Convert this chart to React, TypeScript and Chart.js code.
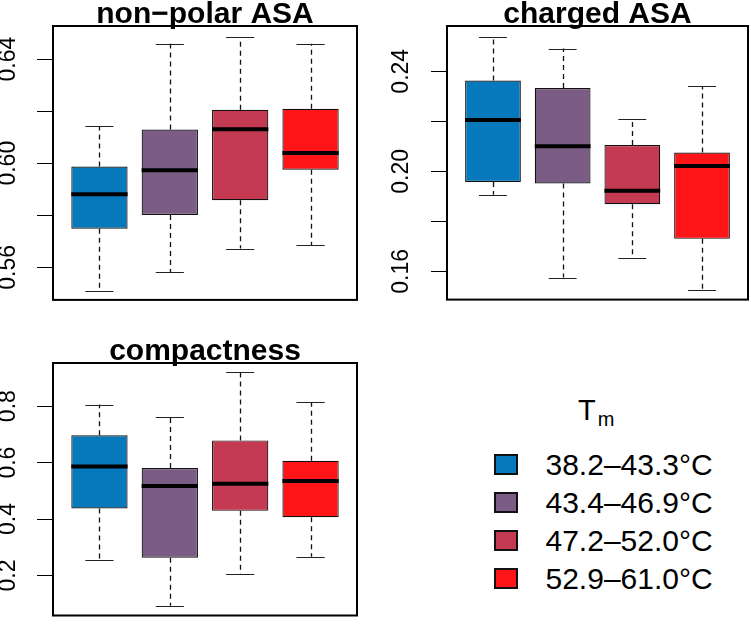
import React, { useEffect, useRef } from 'react';
import { Chart, registerables } from 'chart.js';

Chart.register(...registerables);

const FONT = "'Liberation Sans', Arial, Helvetica, sans-serif";

const GROUPS = ['38.2–43.3°C', '43.4–46.9°C', '47.2–52.0°C', '52.9–61.0°C'];
const COLORS = ['#0679BC', '#7A5C84', '#C43A52', '#FF1418'];
const POSITIONS = [1, 2, 3, 4];
const X_RANGE = [0.34, 4.66];

// non-polar ASA
const NP_LOW = [0.5511, 0.5581, 0.5672, 0.5684];
const NP_Q1 = [0.5748, 0.5801, 0.5858, 0.5975];
const NP_MED = [0.5881, 0.5973, 0.613, 0.6039];
const NP_Q3 = [0.5987, 0.6129, 0.6205, 0.6209];
const NP_HIGH = [0.6143, 0.6459, 0.6485, 0.6459];
const NP_TICKS = [0.56, 0.58, 0.6, 0.62, 0.64];
const NP_TICK_LABELS = ['0.56', '', '0.60', '', '0.64'];
const NP_RANGE = [0.5475, 0.6527];

// charged ASA
const CH_LOW = [0.1906, 0.1575, 0.1655, 0.1525];
const CH_Q1 = [0.1957, 0.1951, 0.1868, 0.173];
const CH_MED = [0.2205, 0.21, 0.1922, 0.2021];
const CH_Q3 = [0.2363, 0.2333, 0.2105, 0.2075];
const CH_HIGH = [0.2537, 0.2491, 0.221, 0.234];
const CH_TICKS = [0.16, 0.18, 0.2, 0.22, 0.24];
const CH_TICK_LABELS = ['0.16', '', '0.20', '', '0.24'];
const CH_RANGE = [0.1487, 0.2581];

// compactness
const CO_LOW = [0.2548, 0.0926, 0.2055, 0.2658];
const CO_Q1 = [0.4377, 0.2626, 0.429, 0.4065];
const CO_MED = [0.5861, 0.5174, 0.5248, 0.5345];
const CO_Q3 = [0.6968, 0.5806, 0.6787, 0.6065];
const CO_HIGH = [0.8055, 0.7603, 0.9194, 0.813];
const CO_TICKS = [0.2, 0.4, 0.6, 0.8];
const CO_TICK_LABELS = ['0.2', '0.4', '0.6', '0.8'];
const CO_RANGE = [0.058, 0.953];

type PanelProps = {
  title: string;
  low: number[];
  q1: number[];
  med: number[];
  q3: number[];
  high: number[];
  ticks: number[];
  tickLabels: string[];
  range: number[];
  left: number;
  top: number;
  width: number;
  height: number;
  axisWidth: number;
  padTop: number;
  padRight: number;
  padBottom: number;
  labelPad: number;
};

function BoxPanel(p: PanelProps) {
  const ref = useRef<HTMLCanvasElement | null>(null);
  useEffect(() => {
    if (!ref.current) return;
    const extras = {
      id: 'boxExtras',
      beforeDatasetsDraw(chart: any) {
        const { ctx, scales } = chart;
        const y = scales.y;
        const meta = chart.getDatasetMeta(0);
        ctx.save();
        meta.data.forEach((bar: any, i: number) => {
          const { x, width } = bar.getProps(['x', 'width'], true);
          const yHigh = y.getPixelForValue(p.high[i]);
          const yLow = y.getPixelForValue(p.low[i]);
          const yQ1 = y.getPixelForValue(p.q1[i]);
          const yQ3 = y.getPixelForValue(p.q3[i]);
          const cx = Math.round(x) + 0.5;
          ctx.strokeStyle = '#111';
          ctx.lineWidth = 1.3;
          ctx.setLineDash([5, 4]);
          ctx.beginPath();
          ctx.moveTo(cx, yQ3);
          ctx.lineTo(cx, yHigh);
          ctx.stroke();
          ctx.beginPath();
          ctx.moveTo(cx, yQ1);
          ctx.lineTo(cx, yLow);
          ctx.stroke();
          ctx.setLineDash([]);
          ctx.lineWidth = 1;
          ctx.strokeStyle = '#222';
          ctx.beginPath();
          ctx.moveTo(x - width / 4, Math.round(yHigh) + 0.5);
          ctx.lineTo(x + width / 4, Math.round(yHigh) + 0.5);
          ctx.moveTo(x - width / 4, Math.round(yLow) + 0.5);
          ctx.lineTo(x + width / 4, Math.round(yLow) + 0.5);
          ctx.stroke();
        });
        ctx.restore();
      },
      afterDatasetsDraw(chart: any) {
        const { ctx, scales, chartArea } = chart;
        const y = scales.y;
        const meta = chart.getDatasetMeta(0);
        ctx.save();
        meta.data.forEach((bar: any, i: number) => {
          const { x, width } = bar.getProps(['x', 'width'], true);
          const ym = y.getPixelForValue(p.med[i]);
          ctx.strokeStyle = '#000';
          ctx.lineWidth = 4;
          ctx.beginPath();
          ctx.moveTo(x - width / 2, ym);
          ctx.lineTo(x + width / 2, ym);
          ctx.stroke();
        });
        ctx.lineWidth = 2;
        ctx.strokeStyle = '#000';
        ctx.strokeRect(
          chartArea.left,
          chartArea.top,
          chartArea.right - chartArea.left,
          chartArea.bottom - chartArea.top
        );
        ctx.fillStyle = '#000';
        ctx.font = `bold 30px ${FONT}`;
        ctx.textAlign = 'center';
        ctx.textBaseline = 'alphabetic';
        ctx.fillText(p.title, (chartArea.left + chartArea.right) / 2, chartArea.top - 3);
        ctx.restore();
      },
    };

    const chart = new Chart(ref.current, {
      type: 'bar',
      data: {
        datasets: [
          {
            data: POSITIONS.map((pos, i) => ({ x: pos, y: [p.q1[i], p.q3[i]] })) as any,
            backgroundColor: COLORS,
            borderColor: '#111',
            borderWidth: 1.2,
            borderSkipped: false,
            barPercentage: 0.8,
            categoryPercentage: 1,
          },
        ],
      },
      options: {
        animation: false,
        responsive: false,
        maintainAspectRatio: false,
        events: [],
        layout: { padding: { top: p.padTop, right: p.padRight, bottom: p.padBottom, left: 0 } },
        plugins: {
          legend: { display: false },
          tooltip: { enabled: false },
          title: { display: false },
        },
        scales: {
          x: {
            type: 'linear',
            min: X_RANGE[0],
            max: X_RANGE[1],
            display: false,
            offset: false,
            afterBuildTicks: (s: any) => {
              s.ticks = POSITIONS.map((v) => ({ value: v }));
            },
          },
          y: {
            type: 'linear',
            min: p.range[0],
            max: p.range[1],
            afterBuildTicks: (s: any) => {
              s.ticks = p.ticks.map((v) => ({ value: v }));
            },
            afterFit: (s: any) => {
              s.width = p.axisWidth;
            },
            grid: {
              drawOnChartArea: false,
              drawTicks: true,
              tickLength: 16,
              tickColor: '#000',
              tickWidth: 1,
            },
            border: { display: false },
            ticks: {
              autoSkip: false,
              minRotation: 90,
              maxRotation: 90,
              crossAlign: 'center',
              padding: p.labelPad,
              color: '#000',
              font: { family: FONT, size: 23 },
              callback: (_v: any, i: number) => p.tickLabels[i],
            },
          },
        },
      },
      plugins: [extras],
    } as any);
    return () => chart.destroy();
  }, []);
  return (
    <canvas
      ref={ref}
      width={p.width}
      height={p.height}
      style={{ position: 'absolute', left: p.left, top: p.top, width: p.width, height: p.height, display: 'block' }}
    />
  );
}

function Legend() {
  const rowTop = 454;
  const rowStep = 37.9;
  return (
    <div style={{ position: 'absolute', left: 0, top: 0, fontFamily: FONT, color: '#000' }}>
      <div style={{ position: 'absolute', left: 578, top: 395.5, fontSize: 29, lineHeight: '29px', whiteSpace: 'nowrap' }}>
        T
        <span style={{ fontSize: 20, position: 'relative', top: 6, marginLeft: 2 }}>m</span>
      </div>
      {GROUPS.map((g, i) => (
        <React.Fragment key={g}>
          <div
            style={{
              position: 'absolute',
              left: 494,
              top: rowTop + i * rowStep,
              width: 24,
              height: 21,
              boxSizing: 'border-box',
              border: '2px solid #111',
              background: COLORS[i],
            }}
          />
          <div
            style={{
              position: 'absolute',
              left: 545.5,
              top: rowTop - 3.7 + i * rowStep,
              fontSize: 30,
              lineHeight: '30px',
              whiteSpace: 'nowrap',
            }}
          >
            {g}
          </div>
        </React.Fragment>
      ))}
    </div>
  );
}

export default function App() {
  return (
    <div style={{ position: 'absolute', left: 0, top: 0, width: 751, height: 642, overflow: 'hidden', background: '#fff' }}>
      <BoxPanel
        title="non−polar ASA"
        low={NP_LOW}
        q1={NP_Q1}
        med={NP_MED}
        q3={NP_Q3}
        high={NP_HIGH}
        ticks={NP_TICKS}
        tickLabels={NP_TICK_LABELS}
        range={NP_RANGE}
        left={0}
        top={0}
        width={375}
        height={320}
        axisWidth={53}
        padTop={26}
        padRight={18}
        padBottom={17}
        labelPad={6.3}
      />
      <BoxPanel
        title="charged ASA"
        low={CH_LOW}
        q1={CH_Q1}
        med={CH_MED}
        q3={CH_Q3}
        high={CH_HIGH}
        ticks={CH_TICKS}
        tickLabels={CH_TICK_LABELS}
        range={CH_RANGE}
        left={375}
        top={0}
        width={376}
        height={320}
        axisWidth={72}
        padTop={26}
        padRight={3}
        padBottom={17}
        labelPad={6.6}
      />
      <BoxPanel
        title="compactness"
        low={CO_LOW}
        q1={CO_Q1}
        med={CO_MED}
        q3={CO_Q3}
        high={CO_HIGH}
        ticks={CO_TICKS}
        tickLabels={CO_TICK_LABELS}
        range={CO_RANGE}
        left={0}
        top={320}
        width={375}
        height={322}
        axisWidth={53}
        padTop={43}
        padRight={18}
        padBottom={2}
        labelPad={12.7}
      />
      <Legend />
    </div>
  );
}
